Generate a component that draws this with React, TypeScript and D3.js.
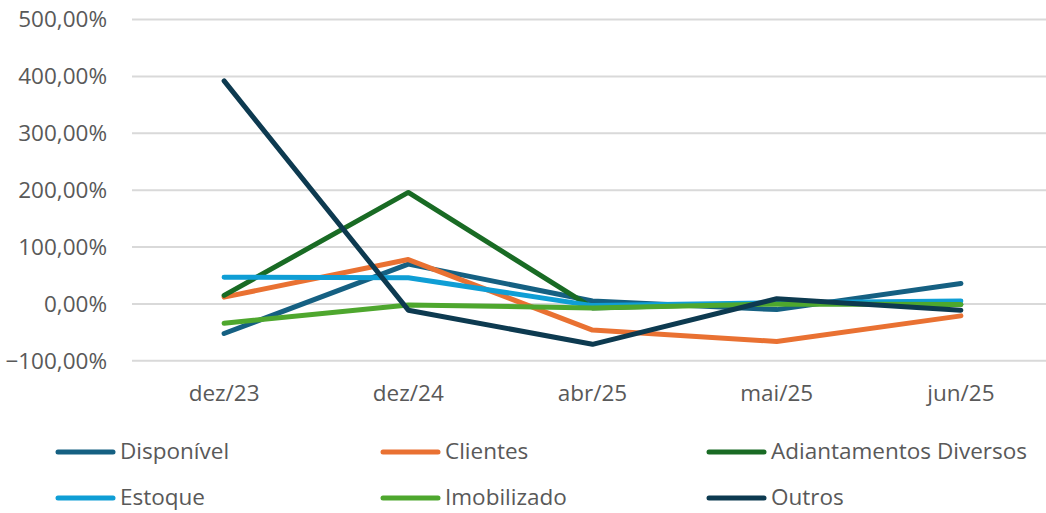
import { useEffect, useRef } from 'react'
import * as d3 from 'd3'

const categories = ['dez/23', 'dez/24', 'abr/25', 'mai/25', 'jun/25']

const disponivel = [-52, 70, 5, -10, 36]
const clientes = [12, 78, -46, -66, -21]
const adiantamentos = [15, 196, -7, 2, -1]
const estoque = [47, 46, -3, 2, 5]
const imobilizado = [-34, -2, -7, 0, -1]
const outros = [392, -11, -71, 9, -11]

const seriesNames = ['Disponível', 'Clientes', 'Adiantamentos Diversos', 'Estoque', 'Imobilizado', 'Outros']
const seriesValues = [disponivel, clientes, adiantamentos, estoque, imobilizado, outros]
const seriesColors = ['#156082', '#E97132', '#196B24', '#0F9ED5', '#4EA72E', '#0D3A50']

const yTicks = [-100, 0, 100, 200, 300, 400, 500]

export default function App() {
  const svgRef = useRef<SVGSVGElement | null>(null)

  useEffect(() => {
    if (!svgRef.current) return
    const width = 1046
    const height = 513
    const font = '"Open Sans", Lato, sans-serif'
    const fontSize = '22.5px'

    const svg = d3.select(svgRef.current)
    svg.selectAll('*').remove()
    svg.attr('width', width).attr('height', height)

    const x = d3.scalePoint<string>().domain(categories).range([132, 1053]).padding(0.5)
    const y = d3.scaleLinear().domain([-100, 500]).range([360.8, 19.5])

    const ptBR = d3.formatLocale({ decimal: ',', thousands: '.', grouping: [3], currency: ['R$', ''] })
    const fmt = ptBR.format('.2f')

    // gridlines
    svg
      .append('g')
      .selectAll('line')
      .data(yTicks)
      .enter()
      .append('line')
      .attr('x1', 132)
      .attr('x2', width)
      .attr('y1', d => y(d))
      .attr('y2', d => y(d))
      .attr('stroke', '#d9d9d9')
      .attr('stroke-width', 2)

    // y labels
    svg
      .append('g')
      .selectAll('text')
      .data(yTicks)
      .enter()
      .append('text')
      .attr('x', 107)
      .attr('y', d => y(d))
      .attr('dy', '0.35em')
      .attr('text-anchor', 'end')
      .style('font-family', font)
      .style('font-size', fontSize)
      .attr('fill', '#595959')
      .text(d => fmt(d) + '%')

    // x labels
    svg
      .append('g')
      .selectAll('text')
      .data(categories)
      .enter()
      .append('text')
      .attr('x', d => x(d) as number)
      .attr('y', 393)
      .attr('dy', '0.35em')
      .attr('text-anchor', 'middle')
      .style('font-family', font)
      .style('font-size', fontSize)
      .attr('fill', '#595959')
      .text(d => d)

    // lines
    const line = d3
      .line<number>()
      .x((_, i) => x(categories[i]) as number)
      .y(d => y(d))

    seriesValues.forEach((vals, i) => {
      svg
        .append('path')
        .datum(vals)
        .attr('fill', 'none')
        .attr('stroke', seriesColors[i])
        .attr('stroke-width', 5)
        .attr('stroke-linecap', 'round')
        .attr('stroke-linejoin', 'round')
        .attr('d', line)
    })

    // legend
    const colX = [56, 381, 707]
    const rowY = [452, 498]
    seriesNames.forEach((name, i) => {
      const lx = colX[i % 3]
      const ly = rowY[Math.floor(i / 3)]
      const g = svg.append('g')
      g.append('line')
        .attr('x1', lx + 2)
        .attr('x2', lx + 57)
        .attr('y1', ly)
        .attr('y2', ly)
        .attr('stroke', seriesColors[i])
        .attr('stroke-width', 5)
        .attr('stroke-linecap', 'round')
      g.append('text')
        .attr('x', lx + 64)
        .attr('y', ly)
        .attr('dy', '0.32em')
        .style('font-family', font)
        .style('font-size', fontSize)
        .attr('fill', '#595959')
        .text(name)
    })
  }, [])

  return (
    <div style={{ position: 'absolute', left: 0, top: 0 }}>
      <svg ref={svgRef} style={{ display: 'block', background: '#fff' }}></svg>
    </div>
  )
}
